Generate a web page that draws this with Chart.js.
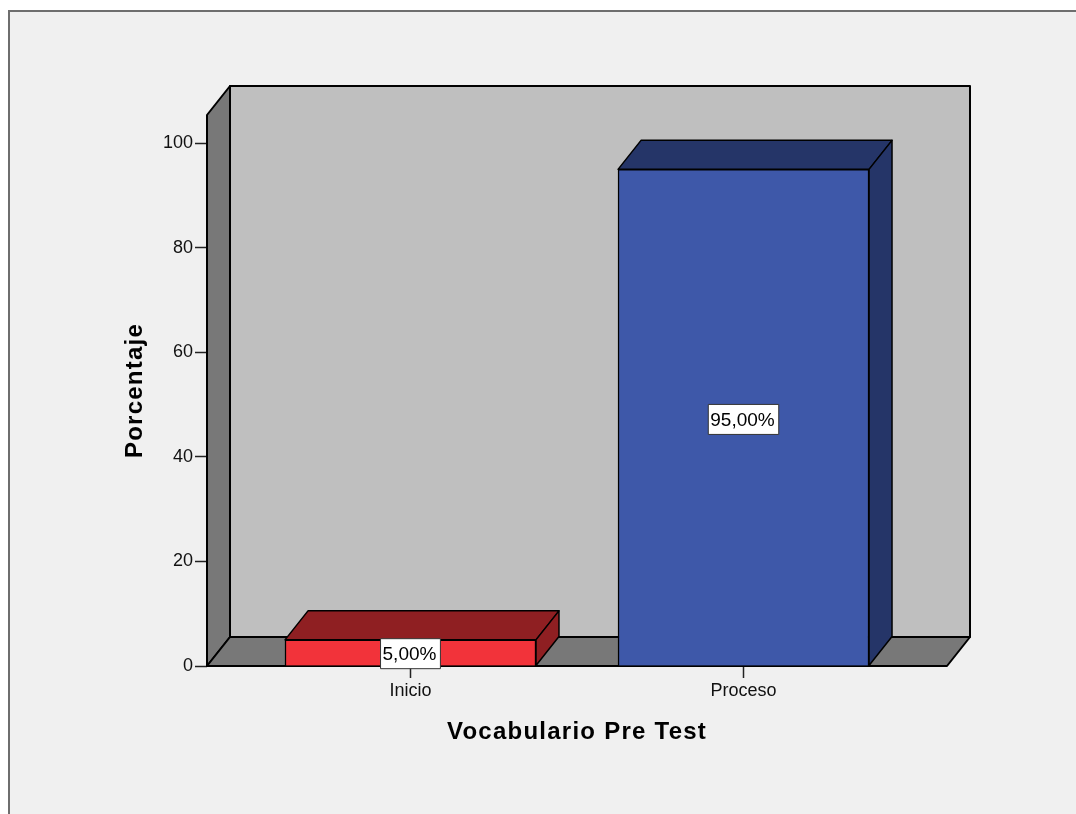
<!DOCTYPE html>
<html>
<head>
<meta charset="utf-8">
<script src="https://cdn.jsdelivr.net/npm/chart.js@4"></script>
<style>
  html, body { margin: 0; padding: 0; background: #fff; overflow: hidden; }
  #frame { position: absolute; left: 8px; top: 10px; width: 1068px; height: 804px; box-sizing: border-box;
           border-left: 2px solid #6e6e6e; border-top: 2px solid #6e6e6e; background: #f0f0f0; }
  #wrap { position: absolute; left: 0; top: 0; width: 1076px; height: 814px; }
</style>
</head>
<body>
<div id="frame"></div>
<div id="wrap"><canvas id="chart" width="1076" height="814"></canvas></div>
<script>
// datos
const categories = ["Inicio", "Proceso"];
const values = [5, 95];
const valueLabels = ["5,00%", "95,00%"];
const yTicks = [0, 20, 40, 60, 80, 100];
const frontColors = ["#f2333a", "#3e58a9"];
const topColors = ["#8f1f22", "#253568"];

const DEPTH_X = 23, DEPTH_Y = 29;
const LINE = "#000";

function poly(ctx, pts, fill, width) {
  ctx.beginPath();
  pts.forEach((p, i) => i ? ctx.lineTo(p[0], p[1]) : ctx.moveTo(p[0], p[1]));
  ctx.closePath();
  ctx.fillStyle = fill;
  ctx.fill();
  ctx.lineWidth = width;
  ctx.lineJoin = "round";
  ctx.strokeStyle = LINE;
  ctx.stroke();
}

// caja 3D: paredes y piso detrás de las barras, caras laterales y etiquetas
const box3d = {
  id: "box3d",
  beforeDraw(chart) {
    chart.ctx.letterSpacing = "1.25px"; // solo títulos de ejes
  },
  beforeDatasetsDraw(chart) {
    const { ctx, chartArea: a } = chart;
    ctx.letterSpacing = "0px";
    const l = a.left, r = a.right, t = a.top, b = a.bottom;
    const dx = DEPTH_X, dy = DEPTH_Y;
    poly(ctx, [[l + dx, t - dy], [r + dx, t - dy], [r + dx, b - dy], [l + dx, b - dy]], "#bfbfbf", 2);
    poly(ctx, [[l, t], [l + dx, t - dy], [l + dx, b - dy], [l, b]], "#787878", 2);
    poly(ctx, [[l, b], [l + dx, b - dy], [r + dx, b - dy], [r, b]], "#787878", 2);

    // caras superior y lateral de cada barra
    chart.getDatasetMeta(0).data.forEach((bar, i) => {
      const hw = bar.width / 2;
      const x0 = bar.x - hw, x1 = bar.x + hw, y = bar.y, base = bar.base;
      poly(ctx, [[x0, y], [x0 + dx, y - dy], [x1 + dx, y - dy], [x1, y]], topColors[i], 1.5);
      poly(ctx, [[x1, y], [x1 + dx, y - dy], [x1 + dx, base - dy], [x1, base]], topColors[i], 1.5);
    });
  },
  afterDatasetsDraw(chart) {
    const { ctx } = chart;
    ctx.font = "19px 'Liberation Sans'";
    ctx.textAlign = "center";
    ctx.textBaseline = "middle";
    chart.getDatasetMeta(0).data.forEach((bar, i) => {
      const cy = (bar.y + bar.base) / 2 + (i ? 2 : 1);
      const w = ctx.measureText(valueLabels[i]).width + 6;
      const h = 30;
      ctx.fillStyle = "#fff";
      ctx.strokeStyle = "#333";
      ctx.lineWidth = 1;
      ctx.fillRect(bar.x - w / 2, cy - h / 2, w, h);
      ctx.strokeRect(bar.x - w / 2, cy - h / 2, w, h);
      ctx.fillStyle = "#000";
      ctx.fillText(valueLabels[i], bar.x - 1, cy + 1);
    });
  }
};

new Chart(document.getElementById("chart"), {
  type: "bar",
  data: {
    datasets: [{
      data: categories.map((c, i) => ({ x: i, y: values[i] })),
      backgroundColor: frontColors,
      borderColor: LINE,
      borderWidth: 1.5,
      barThickness: 251
    }]
  },
  options: {
    responsive: false,
    animation: false,
    layout: { padding: { top: 115, right: 129, left: 0, bottom: 0 } },
    plugins: { legend: { display: false }, tooltip: { enabled: false } },
    scales: {
      x: {
        type: "linear",
        offset: false,
        min: -0.611,
        max: 1.611,
        afterBuildTicks(s) { s.ticks = categories.map((c, i) => ({ value: i })); },
        afterFit(s) { s.height = 148; },
        grid: { offset: false, drawOnChartArea: false, tickLength: 12, tickColor: "#222", tickWidth: 1.5, z: -1 },
        border: { display: false },
        ticks: {
          z: 1,
          padding: 2,
          maxRotation: 0,
          autoSkip: false,
          color: "#111",
          font: { family: "'Liberation Sans'", size: 18 },
          callback: (v) => categories[v]
        },
        title: {
          display: true,
          text: "Vocabulario Pre Test",
          color: "#000",
          padding: { top: 0, bottom: 67 },
          font: { family: "'Liberation Sans'", size: 24, weight: "bold" }
        }
      },
      y: {
        min: 0,
        max: 105.4,
        afterBuildTicks(s) { s.ticks = yTicks.map((v) => ({ value: v })); },
        afterFit(s) { s.width = 207; },
        grid: { drawOnChartArea: false, tickLength: 12, tickColor: "#222", tickWidth: 1.5, z: -1 },
        border: { display: false },
        ticks: {
          z: 1,
          padding: 2,
          color: "#111",
          font: { family: "'Liberation Sans'", size: 18 }
        },
        title: {
          display: true,
          text: "Porcentaje",
          color: "#000",
          padding: { top: 121, bottom: 0 },
          font: { family: "'Liberation Sans'", size: 24, weight: "bold" }
        }
      }
    }
  },
  plugins: [box3d]
});
</script>
</body>
</html>
